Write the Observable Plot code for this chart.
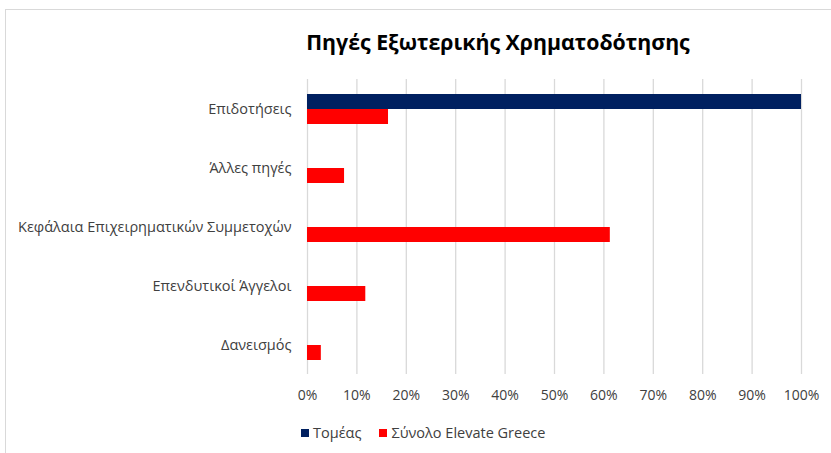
<!DOCTYPE html>
<html>
<head>
<meta charset="utf-8">
<script src="https://cdn.jsdelivr.net/npm/d3@7"></script>
<script src="https://cdn.jsdelivr.net/npm/@observablehq/plot@0.6"></script>
<style>
  html, body { margin: 0; padding: 0; background: #fff; }
  #wrap { position: relative; width: 831px; height: 453px; overflow: hidden; font-family: "Open Sans", "Noto Sans", sans-serif; }
  #frame { position: absolute; left: 5px; top: 9px; width: 840px; height: 460px; border-left: 1px solid #d9d9d9; border-top: 1px solid #d9d9d9; }
  #title { position: absolute; top: 27px; left: 0; width: 996px; text-align: center; font-weight: 700; font-size: 21.3px; color: #000; }
  #chart { position: absolute; left: 0; top: 60px; }
  #legend { position: absolute; left: 301px; top: 423px; display: flex; align-items: center; font-size: 14.5px; color: #404040; }
  .sw { display: inline-block; width: 8px; height: 8px; margin-right: 4px; }
  .item { display: flex; align-items: center; margin-right: 18px; }
</style>
</head>
<body>
<div id="wrap">
  <div id="frame"></div>
  <div id="title"></div>
  <div id="chart"></div>
  <div id="legend"></div>
</div>
<script>
const title = "Πηγές Εξωτερικής Χρηματοδότησης";
const categories = ["Επιδοτήσεις", "Άλλες πηγές", "Κεφάλαια Επιχειρηματικών Συμμετοχών", "Επενδυτικοί Άγγελοι", "Δανεισμός"];
const seriesNames = ["Τομέας", "Σύνολο Elevate Greece"];
const tomeas = [1.00, 0, 0, 0, 0];
const synolo = [0.164, 0.075, 0.613, 0.118, 0.028];
const seriesColors = ["#002060", "#ff0000"];
const xTicks = [0, 0.1, 0.2, 0.3, 0.4, 0.5, 0.6, 0.7, 0.8, 0.9, 1.0];

const data = [];
categories.forEach((c, i) => {
  data.push({category: c, series: seriesNames[0], value: tomeas[i]});
  data.push({category: c, series: seriesNames[1], value: synolo[i]});
});

document.getElementById("title").textContent = title;

const chart = Plot.plot({
  width: 831,
  height: 360,
  marginTop: 18,
  marginBottom: 45.5,
  marginLeft: 307,
  marginRight: 30,
  style: { fontFamily: "'Open Sans', 'Noto Sans', sans-serif", fontSize: "14px", color: "#404040", background: "transparent" },
  x: { domain: [0, 1], ticks: xTicks, tickFormat: d3.format(".0%"), tickSize: 0, tickPadding: 16, label: null },
  fy: { domain: categories, padding: 0, axis: "left", tickSize: 0, tickPadding: 16, label: null },
  y: { domain: seriesNames, paddingInner: 0, paddingOuter: 0.94, axis: null },
  color: { domain: seriesNames, range: seriesColors },
  marks: [
    Plot.ruleX(xTicks.slice(1), { stroke: "#d9d9d9", strokeWidth: 1.3, strokeOpacity: 1 }),
    Plot.ruleX([0], { stroke: "#d9d9d9", strokeWidth: 1.3, strokeOpacity: 1 }),
    Plot.barX(data, { fy: "category", y: "series", x: "value", fill: "series", insetTop: 0, insetBottom: 0 })
  ]
});
chart.querySelectorAll("g[aria-label='x-axis tick label'] text, g[aria-label='fy-axis tick label'] text").forEach(t => t.setAttribute("fill", "#404040"));
chart.querySelectorAll("g[aria-label='fy-axis tick label']").forEach(g => g.setAttribute("font-size", "14.5px"));
chart.querySelectorAll("g[aria-label='fy-axis tick label'] text").forEach(t => t.style.fontSize = "14.5px");
document.getElementById("chart").appendChild(chart);

const legend = document.getElementById("legend");
seriesNames.forEach((s, i) => {
  const item = document.createElement("span");
  item.className = "item";
  const sw = document.createElement("span");
  sw.className = "sw";
  sw.style.background = seriesColors[i];
  item.appendChild(sw);
  item.appendChild(document.createTextNode(s));
  legend.appendChild(item);
});
</script>
</body>
</html>
